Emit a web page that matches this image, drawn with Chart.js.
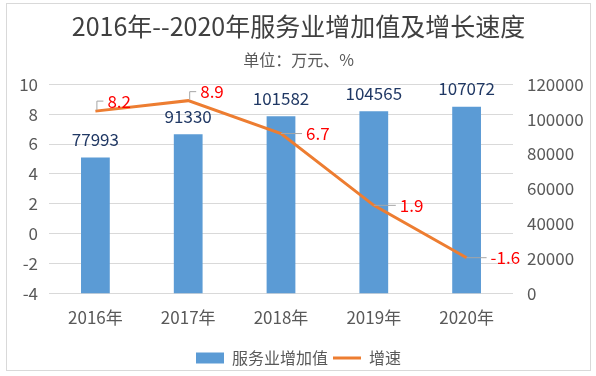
<!DOCTYPE html>
<html>
<head>
<meta charset="utf-8">
<script src="https://cdn.jsdelivr.net/npm/chart.js@4/dist/chart.umd.min.js"></script>
<style>
  html, body { margin: 0; padding: 0; background: #fff; }
  #wrap { width: 596px; height: 376px; }
</style>
</head>
<body>
<div id="wrap"><canvas id="chart" width="596" height="376"></canvas></div>
<script>
// données du graphique
const years = ['2016年', '2017年', '2018年', '2019年', '2020年'];
const valeurAjoutee = [77993, 91330, 101582, 104565, 107072]; // 万元
const croissance = [8.2, 8.9, 6.7, 1.9, -1.6]; // %
const leftTicks = [-4, -2, 0, 2, 4, 6, 8, 10];
const rightTicks = [0, 20000, 40000, 60000, 80000, 100000, 120000];

const FONT = '"Noto Sans CJK SC", "Noto Sans", sans-serif';
const AXIS_COLOR = '#595959';

// décalage des étiquettes de la courbe (x, y) et style du trait de rappel
const lineLabelOffsets = [
    { dx: 12, dy: -10, bend: true },
    { dx: 12, dy: -9, bend: true },
    { dx: 25, dy: 0, bend: false },
    { dx: 26, dy: 0, bend: false },
    { dx: 24, dy: 0, bend: false }
];

// cadre gris autour du graphique
const framePlugin = {
    id: 'frame',
    beforeDraw(chart) {
        const ctx = chart.ctx;
        ctx.save();
        ctx.fillStyle = '#fff';
        ctx.fillRect(0, 0, chart.width, chart.height);
        ctx.strokeStyle = '#d9d9d9';
        ctx.lineWidth = 1;
        ctx.strokeRect(6.5, 3.5, 584, 367);
        ctx.restore();
    }
};

// étiquettes de valeurs
const labelsPlugin = {
    id: 'valueLabels',
    afterDatasetsDraw(chart) {
        const ctx = chart.ctx;
        ctx.save();
        ctx.font = '17px ' + FONT;

        // barres
        const barMeta = chart.getDatasetMeta(0);
        ctx.fillStyle = '#203864';
        ctx.textAlign = 'center';
        ctx.textBaseline = 'middle';
        barMeta.data.forEach((bar, i) => {
            ctx.fillText(String(valeurAjoutee[i]), bar.x, bar.y - 18);
        });

        // courbe
        const lineMeta = chart.getDatasetMeta(1);
        ctx.textAlign = 'left';
        lineMeta.data.forEach((pt, i) => {
            const o = lineLabelOffsets[i];
            const tx = pt.x + o.dx;
            const ty = pt.y + o.dy;
            ctx.strokeStyle = '#a6a6a6';
            ctx.lineWidth = 1;
            ctx.beginPath();
            if (o.bend) {
                ctx.moveTo(pt.x + 1.5, pt.y - 1);
                ctx.lineTo(pt.x + 1.5, ty);
                ctx.lineTo(tx - 4, ty);
            } else {
                ctx.moveTo(pt.x, pt.y);
                ctx.lineTo(tx - 4, ty);
            }
            ctx.stroke();
            ctx.fillStyle = '#ff0000';
            ctx.fillText(String(croissance[i]), tx, ty);
        });
        ctx.restore();
    }
};

new Chart(document.getElementById('chart'), {
    type: 'bar',
    data: {
        labels: years,
        datasets: [
            {
                label: '服务业增加值',
                data: valeurAjoutee,
                backgroundColor: '#5b9bd5',
                borderWidth: 0,
                yAxisID: 'y1',
                barPercentage: 0.31,
                categoryPercentage: 1,
                pointStyle: 'rect',
                order: 1
            },
            {
                type: 'line',
                label: '增速',
                data: croissance,
                borderColor: '#ed7d31',
                backgroundColor: '#ed7d31',
                borderWidth: 3,
                pointRadius: 0,
                pointStyle: 'line',
                tension: 0,
                yAxisID: 'y',
                order: 0
            }
        ]
    },
    options: {
        responsive: false,
        animation: false,
        layout: { padding: { left: 7, right: 6, top: 0, bottom: 0 } },
        scales: {
            x: {
                grid: { display: false },
                border: { display: false },
                afterFit(scale) { scale.height += 11; },
                ticks: { color: AXIS_COLOR, font: { family: FONT, size: 17 }, padding: 6 }
            },
            y: {
                position: 'left',
                min: -4,
                max: 10,
                afterBuildTicks(scale) {
                    scale.ticks = leftTicks.map(v => ({ value: v }));
                },
                afterFit(scale) { scale.width = 42; },
                grid: { color: '#d9d9d9', drawTicks: false },
                border: { display: false },
                ticks: { color: AXIS_COLOR, font: { family: FONT, size: 17 }, padding: 11 }
            },
            y1: {
                position: 'right',
                min: 0,
                max: 120000,
                afterBuildTicks(scale) {
                    scale.ticks = rightTicks.map(v => ({ value: v }));
                },
                afterFit(scale) { scale.width = 77; },
                grid: { display: false, drawTicks: false },
                border: { display: false },
                ticks: {
                    color: AXIS_COLOR,
                    font: { family: FONT, size: 17 },
                    padding: 14,
                    callback: v => String(v)
                }
            }
        },
        plugins: {
            title: {
                display: true,
                text: '2016年--2020年服务业增加值及增长速度',
                color: '#404040',
                font: { family: FONT, size: 25, weight: 'normal' },
                padding: { top: 11, bottom: 2 }
            },
            subtitle: {
                display: true,
                text: '单位：万元、%',
                color: AXIS_COLOR,
                font: { family: FONT, size: 16, weight: 'normal' },
                padding: { top: 7, bottom: 15 }
            },
            legend: {
                position: 'bottom',
                labels: {
                    color: AXIS_COLOR,
                    font: { family: FONT, size: 16 },
                    usePointStyle: true,
                    pointStyleWidth: 28,
                    boxHeight: 11,
                    padding: 5,
                    sort: (a, b) => a.datasetIndex - b.datasetIndex
                }
            },
            tooltip: { enabled: false }
        }
    },
    plugins: [framePlugin, labelsPlugin]
});
</script>
</body>
</html>
